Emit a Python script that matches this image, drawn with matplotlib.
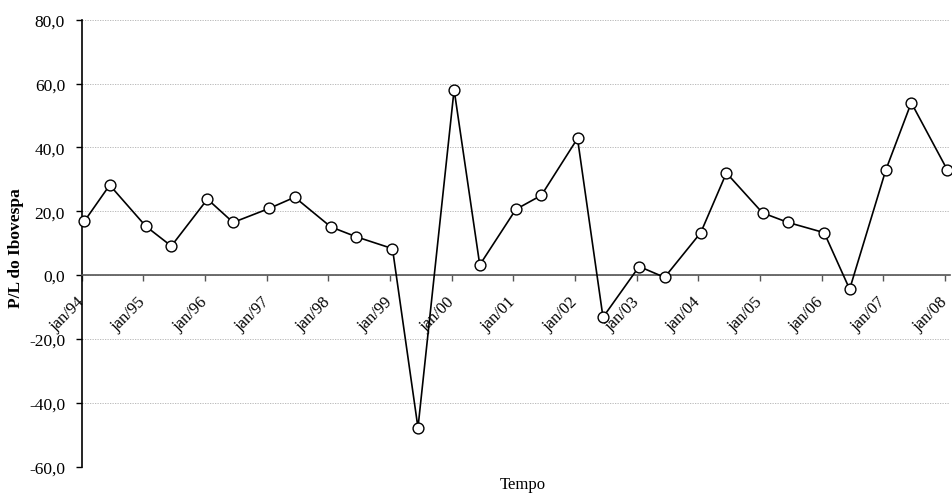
import matplotlib
matplotlib.use("Agg")
import matplotlib.pyplot as plt
import matplotlib.dates as mdates
import pandas as pd

plt.rcParams['font.family'] = ['Liberation Serif', 'DejaVu Serif']

dates = ['1994-01', '1994-06', '1995-01', '1995-06', '1996-01', '1996-06',
         '1997-01', '1997-06', '1998-01', '1998-06', '1999-01', '1999-06',
         '2000-01', '2000-06', '2001-01', '2001-06', '2002-01', '2002-06',
         '2003-01', '2003-06', '2004-01', '2004-06', '2005-01', '2005-06',
         '2006-01', '2006-06', '2007-01', '2007-06', '2008-01']
pl_values = [16.8, 28.2, 15.3, 9.1, 23.8, 16.5,
             20.9, 24.4, 15.1, 12.0, 8.3, -47.8,
             58.1, 3.2, 20.6, 25.0, 42.8, -13.2,
             2.7, -0.7, 13.3, 32.0, 19.5, 16.5,
             13.3, -4.4, 32.9, 54.0, 32.9]
tick_years = list(range(1994, 2009))
tick_labels = ['jan/94', 'jan/95', 'jan/96', 'jan/97', 'jan/98', 'jan/99', 'jan/00',
               'jan/01', 'jan/02', 'jan/03', 'jan/04', 'jan/05', 'jan/06', 'jan/07', 'jan/08']
y_ticks = [-60, -40, -20, 0, 20, 40, 60, 80]

# place each point in the middle of its month slot (numeric date values)
x = [mdates.date2num(pd.Timestamp(d + '-01') + pd.Timedelta(days=15)) for d in dates]
x_ticks = [mdates.date2num(pd.Timestamp(f'{yr}-01-01')) for yr in tick_years]

fig = plt.figure(figsize=(9.52, 5.02), dpi=100)
ax = fig.add_axes([0.0858, 0.0683, 0.9122, 0.8905])

for s in ['top', 'right']:
    ax.spines[s].set_visible(False)
ax.spines['bottom'].set_position(('data', 0))
ax.spines['bottom'].set_color('#555555')
ax.spines['bottom'].set_linewidth(1.2)
ax.spines['left'].set_color('black')
ax.spines['left'].set_linewidth(1.2)

ax.plot(x, pl_values, color='black', lw=1.2, marker='o', markersize=7.8,
        markerfacecolor='white', markeredgecolor='black', markeredgewidth=1.0,
        zorder=3, clip_on=False)

ax.set_xlim(mdates.date2num(pd.Timestamp('1994-01-01')),
            mdates.date2num(pd.Timestamp('2008-02-01')))
ax.set_ylim(-60, 80)

ax.tick_params(axis='y', direction='out', length=4, width=1, pad=8, colors='black')
ax.tick_params(axis='x', direction='out', length=4, width=1, pad=13, color='#555555',
               labelcolor='black', labelrotation=45)

ax.set_yticks(y_ticks)
ax.set_yticklabels([f"{v:.1f}".replace('.', ',') for v in y_ticks])
ax.set_xticks(x_ticks)
ax.set_xticklabels(tick_labels)
for lbl in ax.get_xticklabels():
    lbl.set_ha('right')
    lbl.set_va('center')
    lbl.set_rotation_mode('anchor')
    lbl.set_fontsize(12)
for lbl in ax.get_yticklabels():
    lbl.set_fontsize(12.5)

ax.grid(axis='y', color='#b0b0b0', lw=0.6, linestyle=(0, (1.5, 1.5)))
ax.set_axisbelow(True)

fig.text(0.017, 0.505, 'P/L do Ibovespa', rotation=90, fontsize=12.5,
         fontweight='bold', ha='center', va='center')
fig.text(0.549, 0.034, 'Tempo', fontsize=12, ha='center', va='center')

fig.savefig('out.png', dpi=100)
